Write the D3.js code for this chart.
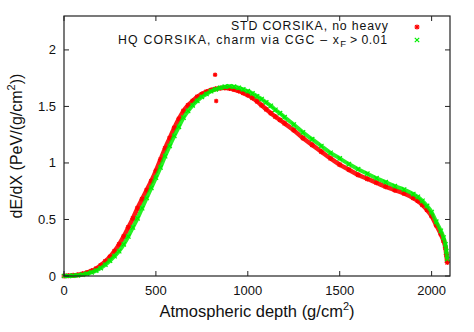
<!DOCTYPE html>
<html><head><meta charset="utf-8">
<script src="https://cdn.jsdelivr.net/npm/d3@7"></script>
<style>body{margin:0;background:#fff}svg{display:block}text{font-family:"Liberation Sans",Arial,sans-serif}</style>
</head><body><svg id="c" width="474" height="332"></svg>
<script>
const depth = [0,25,50,75,100,125,150,175,200,225,250,275,300,325,350,375,400,425,450,475,500,525,550,575,600,625,650,675,700,725,750,775,800,825,850,875,900,925,950,975,1000,1025,1050,1075,1100,1125,1150,1175,1200,1250,1300,1350,1400,1450,1500,1550,1600,1650,1700,1750,1800,1850,1900,1925,1950,1975,2000,2025,2050,2065,2075,2080,2085];
const stdValues = [0,0.002,0.005,0.01,0.018,0.03,0.045,0.065,0.095,0.13,0.17,0.22,0.28,0.35,0.43,0.51,0.6,0.68,0.76,0.84,0.93,1.03,1.13,1.22,1.31,1.39,1.46,1.51,1.55,1.585,1.61,1.63,1.645,1.655,1.662,1.665,1.66,1.65,1.637,1.62,1.60,1.575,1.545,1.51,1.475,1.44,1.41,1.38,1.35,1.29,1.22,1.16,1.10,1.04,0.985,0.94,0.895,0.86,0.825,0.79,0.76,0.73,0.69,0.665,0.63,0.585,0.53,0.45,0.37,0.31,0.25,0.19,0.12];
const hqValues = [0,0.001,0.003,0.006,0.012,0.02,0.032,0.048,0.07,0.1,0.135,0.175,0.22,0.28,0.35,0.43,0.51,0.6,0.69,0.78,0.87,0.96,1.06,1.15,1.24,1.32,1.40,1.46,1.51,1.55,1.585,1.61,1.635,1.65,1.665,1.675,1.678,1.675,1.665,1.65,1.635,1.615,1.59,1.565,1.535,1.505,1.47,1.44,1.405,1.34,1.27,1.21,1.15,1.09,1.04,0.99,0.945,0.905,0.865,0.83,0.795,0.765,0.725,0.70,0.665,0.62,0.565,0.48,0.40,0.34,0.28,0.22,0.15];
const stdOutlierX = [822,828];
const stdOutlierY = [1.78,1.548];
const xTicks = [0,500,1000,1500,2000];
const yTicks = [0,0.5,1,1.5,2];
const legendLabels = ["STD CORSIKA, no heavy","HQ CORSIKA, charm via CGC \u2013 x"];

const svg = d3.select("#c");
const L=64,R=450,T=16,B=276;
const x = d3.scaleLinear().domain([0,2100]).range([L,R]);
const y = d3.scaleLinear().domain([0,2.3]).range([B,T]);

const red="#ff0000", green="#00ee00";

function star(g,cx,cy,s,col){
  g.append("path").attr("d",`M${cx-s},${cy}H${cx+s}M${cx},${cy-s}V${cy+s}M${cx-s*0.75},${cy-s*0.75}L${cx+s*0.75},${cy+s*0.75}M${cx-s*0.75},${cy+s*0.75}L${cx+s*0.75},${cy-s*0.75}`)
   .attr("stroke",col).attr("stroke-width",1.2).attr("fill","none");
}
function cross(g,cx,cy,s,col){
  g.append("path").attr("d",`M${cx-s},${cy-s}L${cx+s},${cy+s}M${cx-s},${cy+s}L${cx+s},${cy-s}`)
   .attr("stroke",col).attr("stroke-width",1.2).attr("fill","none");
}

const line = d3.line().x(d=>x(d[0])).y(d=>y(d[1])).curve(d3.curveMonotoneX);
const stdPts = depth.map((d,i)=>[d,stdValues[i]]);
const hqPts = depth.map((d,i)=>[d,hqValues[i]]);

const plot = svg.append("g");
plot.append("path").attr("d",line(stdPts)).attr("stroke",red).attr("stroke-width",4.5).attr("fill","none").attr("stroke-opacity",0.9);
stdPts.forEach(p=>star(plot,x(p[0]),y(p[1]),2.6,red));
stdOutlierX.forEach((v,i)=>star(plot,x(v),y(stdOutlierY[i]),2.2,red));
plot.append("path").attr("d",line(hqPts)).attr("stroke",green).attr("stroke-width",4).attr("fill","none").attr("stroke-opacity",0.85);
hqPts.forEach(p=>cross(plot,x(p[0]),y(p[1]),2.2,green));

// frame
svg.append("rect").attr("x",L).attr("y",T).attr("width",R-L).attr("height",B-T).attr("fill","none").attr("stroke","#222").attr("stroke-width",1.2);

// ticks
const tk=5;
xTicks.forEach(v=>{
  const px=x(v);
  svg.append("line").attr("x1",px).attr("x2",px).attr("y1",B).attr("y2",B-tk).attr("stroke","#222");
  svg.append("line").attr("x1",px).attr("x2",px).attr("y1",T).attr("y2",T+tk).attr("stroke","#222");
  svg.append("text").attr("x",px).attr("y",B+19).attr("text-anchor","middle").attr("font-size",13).attr("fill","#111").text(v);
});
yTicks.forEach(v=>{
  const py=y(v);
  svg.append("line").attr("x1",L).attr("x2",L+tk).attr("y1",py).attr("y2",py).attr("stroke","#222");
  svg.append("line").attr("x1",R).attr("x2",R-tk).attr("y1",py).attr("y2",py).attr("stroke","#222");
  svg.append("text").attr("x",L-8).attr("y",py+4.5).attr("text-anchor","end").attr("font-size",13).attr("fill","#111").text(v);
});

// axis titles
const xt = svg.append("text").attr("x",(L+R)/2).attr("y",317).attr("text-anchor","middle").attr("font-size",16.5).attr("fill","#111");
xt.append("tspan").text("Atmospheric depth (g/cm");
xt.append("tspan").attr("font-size",11).attr("dy",-7).text("2");
xt.append("tspan").attr("dy",7).text(")");

const yt = svg.append("text").attr("transform",`translate(22,${(T+B)/2}) rotate(-90)`).attr("text-anchor","middle").attr("font-size",16).attr("fill","#111");
yt.append("tspan").text("dE/dX (PeV/(g/cm");
yt.append("tspan").attr("font-size",11).attr("dy",-7).text("2");
yt.append("tspan").attr("dy",7).text("))");

// legend
svg.append("text").attr("x",231).attr("y",29.5).attr("font-size",12.3).attr("textLength",157).attr("lengthAdjust","spacing").attr("fill","#111").text(legendLabels[0]);
const l2 = svg.append("text").attr("x",118).attr("y",43.5).attr("font-size",12.3).attr("fill","#111");
l2.append("tspan").attr("textLength",221).attr("lengthAdjust","spacing").text(legendLabels[1]);
l2.append("tspan").attr("font-size",9.5).attr("dy",3).text("F");
l2.append("tspan").attr("dy",-3).attr("textLength",41).attr("lengthAdjust","spacing").text(" > 0.01");
star(svg,417,27,2.6,red);
cross(svg,417,40,2.2,green);
</script></body></html>
